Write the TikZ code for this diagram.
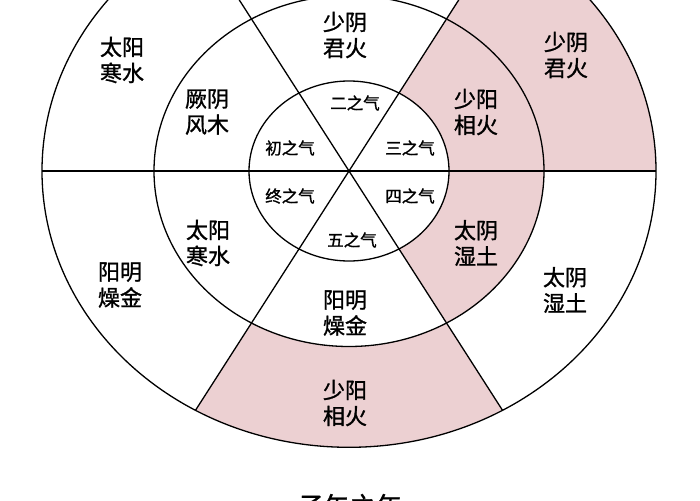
\documentclass[tikz,border=0pt]{standalone}
\usepackage{fontspec}
\newfontfamily\cjk[FakeBold=1.2]{Noto Sans CJK SC}
\definecolor{hatch}{RGB}{236,208,210}
\begin{document}
\begin{tikzpicture}[x=1pt,y=-1pt,
  big/.style={font=\cjk\fontsize{22}{26}\selectfont,align=center},
  small/.style={font=\cjk\fontsize{16.5}{19}\selectfont},
  ring/.style={line width=1.3pt,black}]
\useasboundingbox (0,0) rectangle (700,500);
\fill[white] (0,0) rectangle (700,500);
\begin{scope}[shift={(349,171)},yscale=-0.9]
  \fill[hatch] (0:307) arc[start angle=0,end angle=60,radius=307] -- (60:195) arc[start angle=60,end angle=0,radius=195] -- cycle;
  \fill[hatch] (240:307) arc[start angle=240,end angle=300,radius=307] -- (300:195) arc[start angle=300,end angle=240,radius=195] -- cycle;
  \fill[hatch] (-60:195) arc[start angle=-60,end angle=60,radius=195] -- (60:100) arc[start angle=60,end angle=-60,radius=100] -- cycle;
  \draw[ring] (0,0) circle[radius=307];
  \draw[ring] (0,0) circle[radius=195];
  \draw[ring] (0,0) circle[radius=100];
  \coordinate (a0) at (0:307); \coordinate (a180) at (180:307);
  \coordinate (a60) at (60:307); \coordinate (a240) at (240:307);
  \coordinate (a120) at (120:307); \coordinate (a300) at (300:307);
  \draw[ring] (a0) -- (a180);
  \draw[ring] (a60) -- (a240);
  \draw[ring] (a120) -- (a300);
\end{scope}
\node[big] (o1) at (122,60) {太阳\\寒水};
\node[big] (m1) at (345,35) {少阴\\君火};
\node[big] (o2) at (566,55) {少阴\\君火};
\node[big] (m2) at (476,112) {少阳\\相火};
\node[big] (m3) at (207,112) {厥阴\\风木};
\node[big] (o3) at (120,285) {阳明\\燥金};
\node[big] (m4) at (208,243) {太阳\\寒水};
\node[big] (m5) at (345,313) {阳明\\燥金};
\node[big] (m6) at (476,243) {太阴\\湿土};
\node[big] (o4) at (565,290) {太阴\\湿土};
\node[big] (o5) at (345,403) {少阳\\相火};
\node[small] (i2) at (355,103) {二之气};
\node[small] (i3) at (410,148) {三之气};
\node[small] (i4) at (410,196) {四之气};
\node[small] (i5) at (352,240) {五之气};
\node[small] (i6) at (290,196) {终之气};
\node[small] (i1) at (290,148) {初之气};
\node[font=\cjk\fontsize{26}{30}\selectfont] (t) at (350,506) {子午之年};
\end{tikzpicture}
\end{document}
